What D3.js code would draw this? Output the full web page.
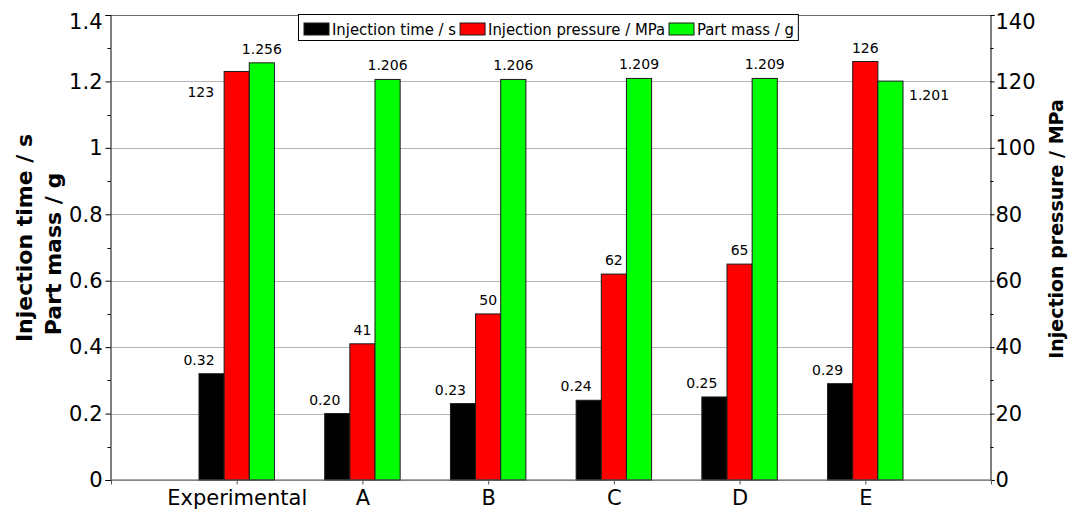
<!DOCTYPE html>
<html>
<head>
<meta charset="utf-8">
<script src="https://cdn.jsdelivr.net/npm/d3@7"></script>
<style>
  html, body { margin: 0; padding: 0; background: #fff; }
  svg { display: block; }
  text { font-family: "DejaVu Sans", Verdana, sans-serif; fill: #000; }
</style>
</head>
<body>
<svg id="chart" width="1073" height="513"></svg>
<script>
// Moulding simulation comparison: injection time, injection pressure and part mass
const categories = ["Experimental", "A", "B", "C", "D", "E"];
const injectionTime = [0.32, 0.20, 0.23, 0.24, 0.25, 0.29];      // s
const injectionPressure = [123, 41, 50, 62, 65, 126];              // MPa
const partMass = [1.256, 1.206, 1.206, 1.209, 1.209, 1.201];       // g

const leftTicks = [0, 0.2, 0.4, 0.6, 0.8, 1, 1.2, 1.4];
const leftMinorTicks = [0.1, 0.3, 0.5, 0.7, 0.9, 1.1, 1.3];
const rightTicks = [0, 20, 40, 60, 80, 100, 120, 140];
const rightMinorTicks = [10, 30, 50, 70, 90, 110, 130];

const seriesNames = ["Injection time / s", "Injection pressure / MPa", "Part mass / g"];
const seriesColors = ["#000000", "#ff0000", "#00ff00"];

const condensed = "'DejaVu Sans Condensed', 'DejaVu Sans', sans-serif";

const svg = d3.select("#chart");
const plot = { left: 111, right: 991, top: 15, bottom: 480 };

// categories sit at 1..6 on a 0..7 linear axis
const x = d3.scaleLinear().domain([0, categories.length + 1]).range([plot.left, plot.right]);
const yLeft = d3.scaleLinear().domain([0, 1.4]).range([plot.bottom, plot.top]);
const yRight = d3.scaleLinear().domain([0, 140]).range([plot.bottom, plot.top]);

const unit = x(1) - x(0);
const barW = unit * 0.2;

// horizontal grid
svg.append("g")
  .selectAll("line")
  .data(leftTicks)
  .join("line")
  .attr("x1", plot.left).attr("x2", plot.right)
  .attr("y1", d => Math.round(yLeft(d)) + 0.5)
  .attr("y2", d => Math.round(yLeft(d)) + 0.5)
  .attr("stroke", (d, i) => i === leftTicks.length - 1 ? "#6a6a6a" : "#b4b4b4")
  .attr("stroke-width", 1);

// series, each drawn against its own axis
const series = [
  { values: injectionTime, scale: yLeft, fmt: d3.format(".2f"), offset: -1, shift: -0.5 },
  { values: injectionPressure, scale: yRight, fmt: d3.format("d"), offset: 0, shift: 0 },
  { values: partMass, scale: yLeft, fmt: d3.format(".3f"), offset: 1, shift: 0 }
];

const bars = svg.append("g");
series.forEach((s, si) => {
  bars.selectAll(null)
    .data(s.values)
    .join("rect")
    .attr("x", (d, i) => x(i + 1) + (s.offset - 0.5) * barW)
    .attr("y", d => s.scale(d))
    .attr("width", barW)
    .attr("height", d => plot.bottom - s.scale(d))
    .attr("fill", seriesColors[si])
    .attr("stroke", "#1a1a1a")
    .attr("stroke-width", 1);
});

// value labels: above the bar, or beside it when a taller neighbour sits close
const labels = svg.append("g").style("font-size", "14px").style("font-family", condensed);
categories.forEach((c, i) => {
  const tops = series.map(s => s.scale(s.values[i]));
  series.forEach((s, si) => {
    const top = tops[si];
    const cx = x(i + 1) + s.offset * barW;
    const leftN = si > 0 ? tops[si - 1] : null;
    const rightN = si < series.length - 1 ? tops[si + 1] : null;
    let tx = cx + s.shift * barW, ty = top - 9, anchor = "middle";
    if (rightN !== null && rightN < top && top - rightN < 30) {
      tx = cx - barW / 2 - 10; ty = top + 26; anchor = "end";
    } else if (leftN !== null && leftN < top && top - leftN < 30) {
      tx = cx + barW / 2 + 6; ty = top + 19; anchor = "start";
    }
    labels.append("text")
      .attr("x", tx).attr("y", ty)
      .attr("text-anchor", anchor)
      .text(s.fmt(s.values[i]));
  });
});

// left axis
const gL = svg.append("g").attr("transform", `translate(${plot.left - 0.5},0)`);
gL.call(d3.axisLeft(yLeft).tickValues(leftTicks).tickSize(5).tickPadding(3)
  .tickFormat(d3.format("~g")));
gL.append("g").selectAll("line").data(leftMinorTicks).join("line")
  .attr("x1", -3).attr("x2", 0)
  .attr("y1", d => Math.round(yLeft(d)) + 0.5).attr("y2", d => Math.round(yLeft(d)) + 0.5)
  .attr("stroke", "#000");

// right axis
const gR = svg.append("g").attr("transform", `translate(${plot.right - 0.5},0)`);
gR.call(d3.axisRight(yRight).tickValues(rightTicks).tickSize(4).tickPadding(1)
  .tickFormat(d3.format("d")));
gR.append("g").selectAll("line").data(rightMinorTicks).join("line")
  .attr("x1", 0).attr("x2", 3)
  .attr("y1", d => Math.round(yRight(d)) + 0.5).attr("y2", d => Math.round(yRight(d)) + 0.5)
  .attr("stroke", "#000");

[gL, gR].forEach(g => {
  g.select(".domain").attr("stroke", "#000");
  g.selectAll(".tick text").style("font-size", "21px").style("font-family", "DejaVu Sans, sans-serif");
  g.selectAll(".tick line").attr("stroke", "#000");
  // keep the top label inside the frame
  g.selectAll(".tick text").filter((d, i, n) => i === n.length - 1).attr("dy", "0.62em");
});

// bottom axis
const gB = svg.append("g").attr("transform", `translate(0,${plot.bottom - 0.5})`);
gB.call(d3.axisBottom(x).tickValues(d3.range(1, categories.length + 1))
  .tickSize(5).tickSizeOuter(5).tickPadding(6)
  .tickFormat(d => categories[d - 1]));
gB.select(".domain").attr("stroke", "#555");
gB.selectAll(".tick line").attr("stroke", "#555");
gB.selectAll(".tick text").style("font-size", "21px").style("font-family", "DejaVu Sans, sans-serif")
  .attr("dy", "0.7em");

// axis titles
const titleStyle = (sel, size) => sel.style("font-size", size).style("font-weight", "bold")
  .attr("text-anchor", "middle");
svg.append("text").call(titleStyle, "22px")
  .attr("transform", "translate(32,238) rotate(-90)")
  .text("Injection time / s");
svg.append("text").call(titleStyle, "22px")
  .attr("transform", "translate(61,254) rotate(-90)")
  .text("Part mass / g");
svg.append("text").call(titleStyle, "19px")
  .attr("transform", "translate(1063,229) rotate(-90)")
  .text("Injection pressure / MPa");

// legend
const legend = svg.append("g");
const box = legend.append("rect")
  .attr("fill", "#fff").attr("stroke", "#000").attr("stroke-width", 1);
let lx = 304;
seriesNames.forEach((name, i) => {
  legend.append("rect")
    .attr("x", lx).attr("y", 23).attr("width", 25).attr("height", 12)
    .attr("fill", seriesColors[i]).attr("stroke", "#1a1a1a");
  const t = legend.append("text")
    .attr("x", lx + 28).attr("y", 35)
    .style("font-size", "16.5px")
    .style("font-family", condensed)
    .text(name);
  lx += 28 + t.node().getComputedTextLength() + 4;
});
box.attr("x", 298.5).attr("y", 14.5).attr("width", Math.min(lx, 803) - 298).attr("height", 26);
</script>
</body>
</html>
